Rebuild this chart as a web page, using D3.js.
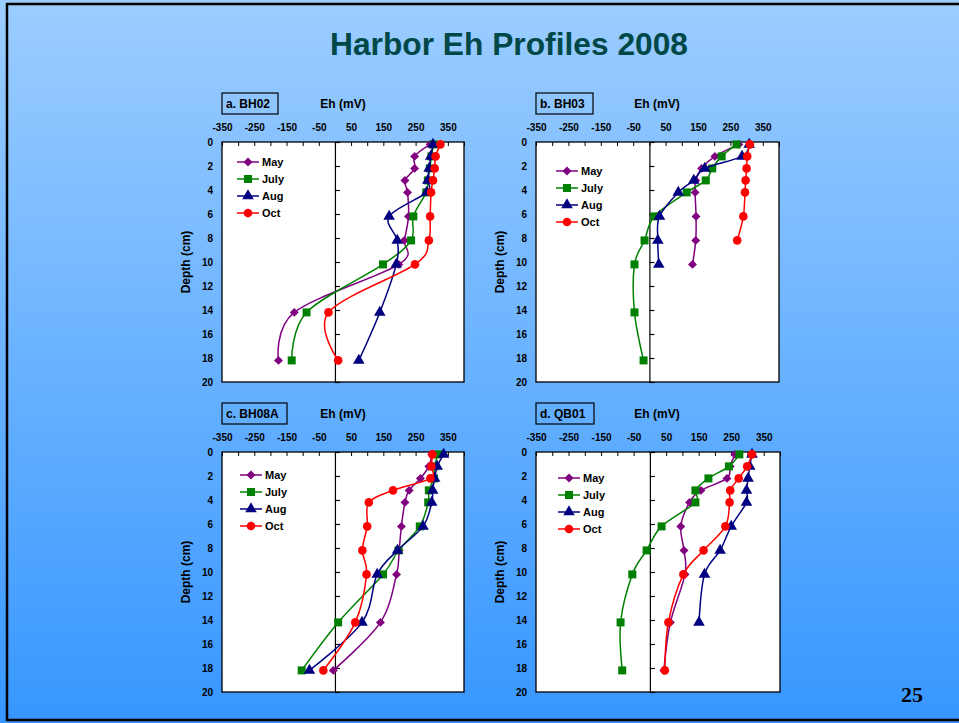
<!DOCTYPE html>
<html>
<head>
<meta charset="utf-8">
<script src="https://cdn.jsdelivr.net/npm/d3@7"></script>
<style>
  html, body { margin: 0; padding: 0; overflow: hidden; }
</style>
</head>
<body>
<svg id="chart" width="959" height="723" font-family='Arial, "Liberation Sans", sans-serif'></svg>
<script>
'use strict';

// Data Inputs
const depths = [0.2, 1.2, 2.2, 3.2, 4.2, 6.2, 8.2, 10.2, 14.2, 18.2];
const months = ['May', 'July', 'Aug', 'Oct'];
const xTickLabels = [-350, -250, -150, -50, 50, 150, 250, 350];
const yTickLabels = [0, 2, 4, 6, 8, 10, 12, 14, 16, 18, 20];

const bh02May  = [295, 247, 247, 217, 225, 228, 215, 198, -126, -175];
const bh02July = [306, 299, 294, 288, 283, 243, 236, 149, -88, -134];
const bh02Aug  = [304, 297, 292, 288, 284, 168, 193, 190, 139, 74];
const bh02Oct  = [327, 312, 309, 304, 298, 295, 291, 248, -20, 10];

const bh03May  = [276, 202, 161, 143, 141, 144, 143, 133];
const bh03July = [269, 223, 194, 174, 115, 15, -15, -46, -46, -18];
const bh03Aug  = [308, 286, 171, 137, 89, 31, 26, 29];
const bh03Oct  = [310, 302, 300, 297, 295, 290, 271];

const bh08May  = [300, 291, 265, 230, 217, 206, 199, 191, 141, -5];
const bh08July = [319, 309, 307, 291, 289, 263, 197, 149, 10, -103];
const bh08Aug  = [337, 317, 309, 303, 300, 273, 194, 131, 84, -79];
const bh08Oct  = [302, 299, 296, 180, 105, 100, 85, 98, 63, -36];

const qb01May  = [261, 247, 237, 157, 122, 95, 105, 108, 63, 43];
const qb01July = [275, 243, 180, 140, 140, 36, -10, -54, -90, -85];
const qb01Aug  = [314, 307, 302, 297, 297, 250, 216, 168, 151];
const qb01Oct  = [314, 299, 273, 247, 245, 232, 165, 103, 57, 46];

const panels = [
    {label: 'a. BH02',  series: [bh02May, bh02July, bh02Aug, bh02Oct]},
    {label: 'b. BH03',  series: [bh03May, bh03July, bh03Aug, bh03Oct]},
    {label: 'c. BH08A', series: [bh08May, bh08July, bh08Aug, bh08Oct]},
    {label: 'd. QB01',  series: [qb01May, qb01July, qb01Aug, qb01Oct]}
];

const colors  = ['#800080', '#008000', '#000080', '#ff0000'];
// diamond = square turned 45 degrees, like the spreadsheet marker
const symbols = [d3.symbolSquare, d3.symbolSquare, d3.symbolTriangle, d3.symbolCircle];
const symSize = [40, 64, 58, 58];
const symRot  = [45, 0, 0, 0];

// layout per panel: plot box, label box width, legend offset
const layout = [
    {x: 222, y: 142, w: 242, h: 240, boxW: 56, legX: 237, legY: 162},
    {x: 536, y: 142, w: 243, h: 240, boxW: 57, legX: 556, legY: 171},
    {x: 222, y: 452, w: 242, h: 240, boxW: 65, legX: 240, legY: 475},
    {x: 536, y: 452, w: 244, h: 240, boxW: 58, legX: 558, legY: 478}
];

const svg = d3.select('#chart');

// background
const defs = svg.append('defs');
const grad = defs.append('linearGradient')
    .attr('id', 'bg')
    .attr('x1', 0).attr('y1', 0).attr('x2', 0).attr('y2', 1);
grad.append('stop').attr('offset', '0%').attr('stop-color', '#9ccdff');
grad.append('stop').attr('offset', '100%').attr('stop-color', '#3797ff');

svg.append('rect')
    .attr('width', 959).attr('height', 723)
    .attr('fill', 'url(#bg)');

svg.append('rect')
    .attr('x', 7).attr('y', 4)
    .attr('width', 1000).attr('height', 716)
    .attr('fill', 'none')
    .attr('stroke', '#000')
    .attr('stroke-width', 2.5);

svg.append('text')
    .attr('x', 509).attr('y', 55)
    .attr('text-anchor', 'middle')
    .attr('font-size', 32)
    .attr('font-weight', 'bold')
    .attr('fill', '#004848')
    .attr('textLength', 358)
    .attr('lengthAdjust', 'spacingAndGlyphs')
    .text('Harbor Eh Profiles 2008');

svg.append('text')
    .attr('x', 912).attr('y', 702)
    .attr('text-anchor', 'middle')
    .attr('font-family', '"Liberation Serif", "DejaVu Serif", serif')
    .attr('font-size', 22)
    .attr('font-weight', 'bold')
    .attr('fill', '#000')
    .text('25');


function markerAt(sel, i) {
    return sel
        .attr('d', d3.symbol().type(symbols[i]).size(symSize[i]))
        .attr('fill', colors[i]);
}

function drawPanel(panel, L) {

    const x = d3.scaleLinear().domain([-350, 400]).range([L.x, L.x + L.w]);
    const y = d3.scaleLinear().domain([0, 20]).range([L.y, L.y + L.h]);

    const g = svg.append('g');

    g.append('rect')
        .attr('x', L.x).attr('y', L.y)
        .attr('width', L.w).attr('height', L.h)
        .attr('fill', '#fff')
        .attr('stroke', '#000')
        .attr('stroke-width', 1.3);

    // top axis, ticks every 50 pointing inward, labels every 100
    const topAxis = d3.axisTop(x)
        .tickValues(d3.range(-350, 401, 50))
        .tickSizeInner(-4)
        .tickSizeOuter(0)
        .tickFormat(d => xTickLabels.includes(d) ? d : '');
    const ga = g.append('g')
        .attr('transform', `translate(0,${L.y})`)
        .call(topAxis)
        .attr('font-family', null);
    ga.select('.domain').remove();
    ga.selectAll('text')
        .attr('y', -11)
        .attr('font-size', 10)
        .attr('font-weight', 'bold')
        .attr('fill', '#000');

    // vertical line at zero with its ticks
    const zeroAxis = d3.axisRight(y)
        .tickValues(yTickLabels)
        .tickSizeInner(5)
        .tickSizeOuter(0)
        .tickFormat('');
    g.append('g')
        .attr('transform', `translate(${x(0)},0)`)
        .call(zeroAxis)
        .selectAll('line, path')
        .attr('stroke', '#000')
        .attr('stroke-width', 1.2);

    // depth labels on the left
    g.selectAll('text.ylab')
        .data(yTickLabels)
        .enter()
        .append('text')
        .attr('class', 'ylab')
        .attr('x', L.x - 9)
        .attr('y', d => y(d) + 3.5)
        .attr('text-anchor', 'end')
        .attr('font-size', 10)
        .attr('font-weight', 'bold')
        .text(d => d);

    g.append('text')
        .attr('transform', `translate(${L.x - 32},${L.y + L.h / 2}) rotate(-90)`)
        .attr('text-anchor', 'middle')
        .attr('font-size', 12)
        .attr('font-weight', 'bold')
        .text('Depth (cm)');

    g.append('text')
        .attr('x', L.x + 121)
        .attr('y', L.y - 34)
        .attr('text-anchor', 'middle')
        .attr('font-size', 12)
        .attr('font-weight', 'bold')
        .text('Eh (mV)');

    g.append('rect')
        .attr('x', L.x).attr('y', L.y - 49)
        .attr('width', L.boxW).attr('height', 21)
        .attr('fill', 'none')
        .attr('stroke', '#000')
        .attr('stroke-width', 1.2);
    g.append('text')
        .attr('x', L.x + 4)
        .attr('y', L.y - 34)
        .attr('font-size', 12)
        .attr('font-weight', 'bold')
        .text(panel.label);

    const line = d3.line()
        .x(d => x(d[0]))
        .y(d => y(d[1]))
        .curve(d3.curveCatmullRom.alpha(0));

    panel.series.forEach((vals, i) => {
        const pts = vals.map((v, k) => [v, depths[k]]);
        g.append('path')
            .datum(pts)
            .attr('d', line)
            .attr('fill', 'none')
            .attr('stroke', colors[i])
            .attr('stroke-width', 1.5);
        g.selectAll(null)
            .data(pts)
            .enter()
            .append('path')
            .attr('transform', d => `translate(${x(d[0])},${y(d[1])}) rotate(${symRot[i]})`)
            .call(markerAt, i);
    });

    // legend
    months.forEach((m, i) => {
        const ly = L.legY + i * 17;
        g.append('line')
            .attr('x1', L.legX).attr('x2', L.legX + 22)
            .attr('y1', ly).attr('y2', ly)
            .attr('stroke', colors[i])
            .attr('stroke-width', 1.5);
        g.append('path')
            .attr('transform', `translate(${L.legX + 11},${ly}) rotate(${symRot[i]})`)
            .call(markerAt, i);
        g.append('text')
            .attr('x', L.legX + 25)
            .attr('y', ly + 4)
            .attr('font-size', 11)
            .attr('font-weight', 'bold')
            .text(m);
    });
}

function main() {
    panels.forEach((p, i) => drawPanel(p, layout[i]));
}

main();
</script>
</body>
</html>
